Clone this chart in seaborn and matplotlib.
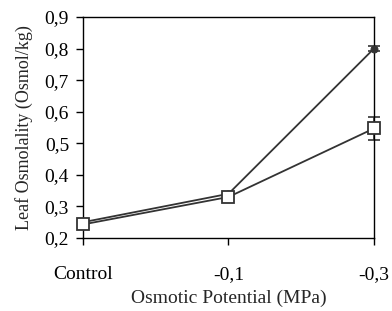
import numpy as np
import pandas as pd
import seaborn as sns
import matplotlib.pyplot as plt
from matplotlib.ticker import FuncFormatter

# Values
treatments = ['Control', '-0,1', '-0,3']
filled_vals = [0.25, 0.34, 0.80]
filled_err = [0.0, 0.0, 0.008]
open_vals = [0.243, 0.330, 0.547]
open_err = [0.0, 0.0, 0.036]

sns.set_style('ticks')
plt.rcParams['font.family'] = ['Liberation Serif', 'DejaVu Serif']

df = pd.DataFrame({
    'x': np.arange(len(treatments)),
    'filled': filled_vals,
    'open': open_vals,
})

fig = plt.figure(figsize=(3.92, 3.11), dpi=100)
ax = fig.add_axes([0.2117, 0.2347, 0.7423, 0.7106])

line_col = '#333333'

# error bars first so markers sit on top
ax.errorbar(df['x'], df['filled'], yerr=filled_err, fmt='none',
            ecolor=line_col, elinewidth=1.2, capsize=4, capthick=1.2, zorder=2)
ax.errorbar(df['x'], df['open'], yerr=open_err, fmt='none',
            ecolor=line_col, elinewidth=1.2, capsize=4, capthick=1.2, zorder=2)

sns.lineplot(data=df, x='x', y='filled', ax=ax, color=line_col, lw=1.3,
             marker='o', markersize=5, markerfacecolor=line_col,
             markeredgecolor=line_col, zorder=3)
sns.lineplot(data=df, x='x', y='open', ax=ax, color=line_col, lw=1.3,
             marker='s', markersize=9, markerfacecolor='white',
             markeredgecolor=line_col, markeredgewidth=1.3, zorder=4)

ax.set_xlim(0, 2)
ax.set_ylim(0.2, 0.9)
ax.set_xticks(df['x'])
ax.set_xticklabels(treatments)
ax.set_yticks(np.arange(0.2, 0.91, 0.1))
ax.yaxis.set_major_formatter(FuncFormatter(lambda v, p: f'{v:.1f}'.replace('.', ',')))

for s in ax.spines.values():
    s.set_color('black')
    s.set_linewidth(1.0)
    s.set_visible(True)
ax.tick_params(axis='both', direction='out', length=5, width=1.0, colors='black',
               labelsize=14, pad=5)
ax.tick_params(axis='x', pad=15)
for line in ax.lines:
    line.set_clip_on(False)
for coll in ax.collections:
    coll.set_clip_on(False)

ax.set_xlabel('Osmotic Potential (MPa)', fontsize=14, labelpad=5)
ax.set_ylabel('Leaf Osmolality (Osmol/kg)', fontsize=13, labelpad=8)

plt.savefig('out.png', dpi=100)
